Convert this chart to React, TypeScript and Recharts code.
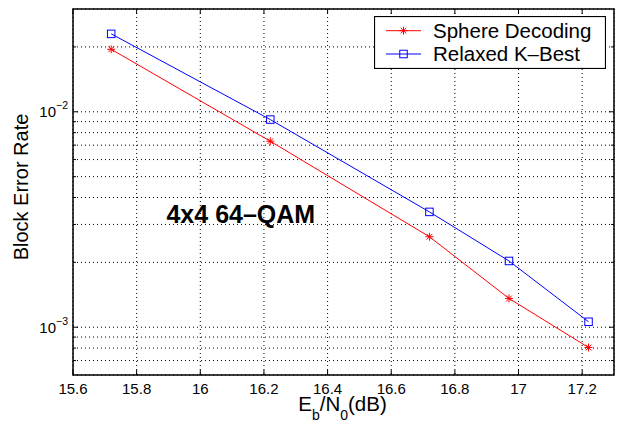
import {
  LineChart,
  Line,
  XAxis,
  YAxis,
  CartesianGrid,
  Legend,
  ReferenceArea,
  ReferenceDot,
} from 'recharts'

// Eb/N0 (dB) and block error rate per decoder
const snrDb = [15.72, 16.22, 16.72, 16.97, 17.22]
const sphereDecoding = [0.0195, 0.0073, 0.00263, 0.00136, 0.000805]
const relaxedKBest = [0.023, 0.0092, 0.00343, 0.00203, 0.00106]

const xTicks = [15.6, 15.8, 16, 16.2, 16.4, 16.6, 16.8, 17, 17.2]
const yTicks = [
  7e-4, 8e-4, 9e-4, 1e-3, 2e-3, 3e-3, 4e-3, 5e-3, 6e-3, 7e-3, 8e-3, 9e-3, 1e-2, 2e-2,
]
const legendOrder = ['sd', 'kb']

const FONT = '"Liberation Sans", Arial, Helvetica, sans-serif'
const PLOT = { left: 73, top: 9, right: 614, bottom: 375 }

const data = snrDb.map((x, i) => ({
  snr: x,
  sd: sphereDecoding[i],
  kb: relaxedKBest[i],
}))

function Star({ cx, cy, color, r = 4 }: { cx: number; cy: number; color: string; r?: number }) {
  const d = r * 0.7071
  return (
    <g stroke={color} strokeWidth={1}>
      <line x1={cx - r} y1={cy} x2={cx + r} y2={cy} />
      <line x1={cx} y1={cy - r} x2={cx} y2={cy + r} />
      <line x1={cx - d} y1={cy - d} x2={cx + d} y2={cy + d} />
      <line x1={cx - d} y1={cy + d} x2={cx + d} y2={cy - d} />
    </g>
  )
}

function Square({ cx, cy, color, s = 7.5 }: { cx: number; cy: number; color: string; s?: number }) {
  return (
    <rect x={cx - s / 2} y={cy - s / 2} width={s} height={s} fill="none" stroke={color} strokeWidth={1} />
  )
}

function XTick({ x, payload }: any) {
  return (
    <g>
      <line x1={x} y1={PLOT.bottom} x2={x} y2={PLOT.bottom - 5} stroke="#000" />
      <line x1={x} y1={PLOT.top} x2={x} y2={PLOT.top + 5} stroke="#000" />
      <text x={x} y={PLOT.bottom + 19} textAnchor="middle" fontSize={15} fontFamily={FONT} fill="#000">
        {String(payload.value)}
      </text>
    </g>
  )
}

function YTick({ y, payload }: any) {
  const lg = Math.log10(payload.value)
  const decade = Math.abs(lg - Math.round(lg)) < 1e-6
  const len = decade ? 5 : 3
  return (
    <g>
      <line x1={PLOT.left} y1={y} x2={PLOT.left + len} y2={y} stroke="#000" />
      <line x1={PLOT.right} y1={y} x2={PLOT.right - len} y2={y} stroke="#000" />
      {decade && (
        <text x={68} y={y + 5.5} textAnchor="end" fontSize={15} fontFamily={FONT} fill="#000">
          10
          <tspan fontSize={10.5} dy={-8}>
            {'\u2212' + Math.abs(Math.round(lg))}
          </tspan>
        </text>
      )}
    </g>
  )
}

function XLabel() {
  const mid = (PLOT.left + PLOT.right) / 2
  return (
    <text x={mid - 1} y={411} textAnchor="middle" fontSize={20.5} fontFamily={FONT} fill="#000">
      E
      <tspan fontSize={14} dy={9}>b</tspan>
      <tspan dy={-9}>/N</tspan>
      <tspan fontSize={14} dy={9}>0</tspan>
      <tspan dy={-9}>(dB)</tspan>
    </text>
  )
}

function YLabel() {
  const cy = 187
  return (
    <text
      x={28}
      y={cy}
      transform={`rotate(-90, 28, ${cy})`}
      textAnchor="middle"
      fontSize={20}
      fontFamily={FONT}
      fill="#000"
    >
      Block Error Rate
    </text>
  )
}

function TitleLabel({ viewBox }: any) {
  return (
    <text x={viewBox.x - 2} y={viewBox.y - 1} fontSize={25} fontWeight="bold" fontFamily={FONT} fill="#000">
      4x4 64{'\u2013'}QAM
    </text>
  )
}

function LegendBox({ payload }: any) {
  const entries = [...(payload ?? [])].sort(
    (a: any, b: any) => legendOrder.indexOf(a.dataKey) - legendOrder.indexOf(b.dataKey),
  )
  return (
    <svg width={232} height={53} style={{ display: 'block' }}>
      <rect x={0.5} y={0.5} width={231} height={52} fill="#fff" stroke="#000" strokeWidth={1.2} />
      {entries.map((entry: any, i: number) => {
        const cy = 14.7 + i * 23.3
        return (
          <g key={entry.dataKey}>
            <line x1={12} y1={cy} x2={47} y2={cy} stroke={entry.color} strokeWidth={1} />
            {entry.dataKey === 'sd' ? (
              <Star cx={29.5} cy={cy} color={entry.color} />
            ) : (
              <Square cx={29.5} cy={cy} color={entry.color} />
            )}
            <text x={59} y={cy + 7} fontSize={20.5} fontFamily={FONT} fill="#000">
              {entry.value}
            </text>
          </g>
        )
      })}
    </svg>
  )
}

export default function App() {
  return (
    <div style={{ position: 'absolute', left: 0, top: 0, background: '#fff' }}>
      <LineChart
        width={618}
        height={421}
        data={data}
        margin={{ top: PLOT.top, right: 618 - PLOT.right, bottom: 0, left: 0 }}
      >
        <CartesianGrid stroke="#000" strokeDasharray="1 3" strokeWidth={1} />
        <XAxis
          dataKey="snr"
          type="number"
          domain={[15.6, 17.3]}
          ticks={xTicks}
          interval={0}
          allowDataOverflow
          height={421 - PLOT.bottom}
          axisLine={false}
          tickLine={false}
          tickSize={0}
          tick={(p: any) => <XTick {...p} />}
          label={<XLabel />}
        />
        <YAxis
          type="number"
          scale="log"
          domain={[6e-4, 3e-2]}
          ticks={yTicks}
          interval={0}
          allowDataOverflow
          width={PLOT.left}
          axisLine={false}
          tickLine={false}
          tickSize={0}
          tick={(p: any) => <YTick {...p} />}
          label={<YLabel />}
        />
        <ReferenceArea
          x1={15.6}
          x2={17.3}
          y1={6e-4}
          y2={3e-2}
          fill="none"
          fillOpacity={0}
          stroke="#000"
          strokeWidth={1.5}
          ifOverflow="visible"
        />
        <ReferenceDot x={15.9} y={0.003} r={0} fill="none" stroke="none" label={<TitleLabel />} />
        <Line
          dataKey="sd"
          name="Sphere Decoding"
          type="linear"
          stroke="#ff0000"
          strokeWidth={1}
          dot={(p: any) => <Star key={`sd-${p.index}`} cx={p.cx} cy={p.cy} color="#ff0000" />}
          activeDot={false}
          isAnimationActive={false}
        />
        <Line
          dataKey="kb"
          name={'Relaxed K\u2013Best'}
          type="linear"
          stroke="#0000ff"
          strokeWidth={1}
          dot={(p: any) => <Square key={`kb-${p.index}`} cx={p.cx} cy={p.cy} color="#0000ff" />}
          activeDot={false}
          isAnimationActive={false}
        />
        <Legend
          layout="horizontal"
          verticalAlign="middle"
          content={(p: any) => <LegendBox {...p} />}
          wrapperStyle={{ position: 'absolute', left: 374, top: 16, width: 232, height: 53 }}
        />
      </LineChart>
    </div>
  )
}
